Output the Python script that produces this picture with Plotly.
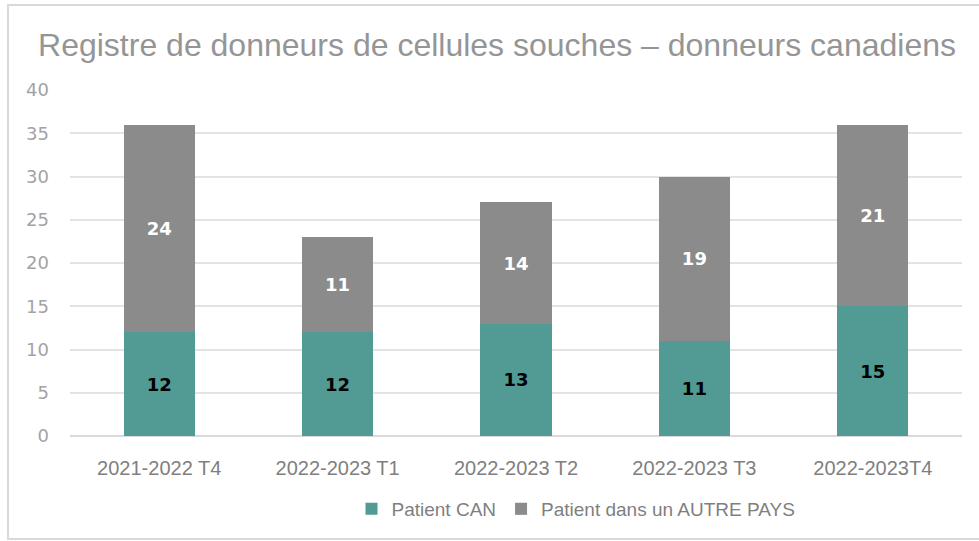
import plotly.graph_objects as go

categories = ["2021-2022 T4", "2022-2023 T1", "2022-2023 T2", "2022-2023 T3", "2022-2023T4"]
patient_can = [12, 12, 13, 11, 15]
patient_autre = [24, 11, 14, 19, 21]
series_names = ["Patient CAN", "Patient dans un AUTRE PAYS"]
y_ticks = [0, 5, 10, 15, 20, 25, 30, 35, 40]

W, H = 979, 541
ml, mr, mt, mb = 70, 17, 90, 105
pw, ph = W - ml - mr, H - mt - mb

fig = go.Figure()
fig.add_trace(go.Bar(
    x=categories, y=patient_can, name=series_names[0],
    marker=dict(color="#529A94", line=dict(width=0)),
    text=patient_can, textposition="inside", insidetextanchor="middle",
    textfont=dict(family="DejaVu Sans", size=18, color="#000000", weight="bold"),
))
fig.add_trace(go.Bar(
    x=categories, y=patient_autre, name=series_names[1],
    marker=dict(color="#8B8B8B", line=dict(width=0)),
    text=patient_autre, textposition="inside", insidetextanchor="middle",
    textfont=dict(family="DejaVu Sans", size=18, color="#FFFFFF", weight="bold"),
))

fig.update_layout(
    width=W, height=H,
    barmode="stack", bargap=0.6,
    paper_bgcolor="white", plot_bgcolor="white",
    margin=dict(l=ml, r=mr, t=mt, b=mb, autoexpand=False),
    font=dict(family="Liberation Sans", color="#7F7F7F"),
    title=dict(text="Registre de donneurs de cellules souches \u2013 donneurs canadiens",
               x=497 / W, xanchor="center", xref="container",
               y=1 - 45 / H, yanchor="middle", yref="container",
               font=dict(family="Liberation Sans", size=32, color="#959595")),
    uniformtext=dict(minsize=8, mode="show"),
    showlegend=True,
    legend=dict(orientation="h", x=576 / W, xanchor="center", xref="container",
                y=1 - 509 / H, yanchor="middle", yref="container",
                font=dict(family="Liberation Sans", size=19, color="#7F7F7F"),
                itemwidth=30, traceorder="normal"),
    xaxis=dict(showgrid=False, showline=False, ticks="", automargin=False,
               ticklabelstandoff=18,
               tickfont=dict(family="Liberation Sans", size=20, color="#7F7F7F")),
    yaxis=dict(range=[0, 40], tickvals=y_ticks, showgrid=True, gridcolor="#E3E3E3", gridwidth=2,
               zeroline=True, zerolinecolor="#D9D9D9", zerolinewidth=2, showline=False,
               ticks="", ticklabelstandoff=20, automargin=False,
               tickfont=dict(family="DejaVu Sans", size=18, color="#A3A3A3")),
)

# outer chart border (extends off right edge like the reference)
fig.add_shape(type="rect", xref="paper", yref="paper",
              x0=(8 - ml) / pw, x1=(W + 60 - ml) / pw,
              y0=-(539 - (mt + ph)) / ph, y1=1 + (mt - 5) / ph,
              line=dict(color="#D9D9D9", width=2), fillcolor="rgba(0,0,0,0)", layer="below")

fig.write_html("out.html", config={"displayModeBar": False},
               post_script="document.body.style.margin='0';document.body.style.overflow='hidden';")
